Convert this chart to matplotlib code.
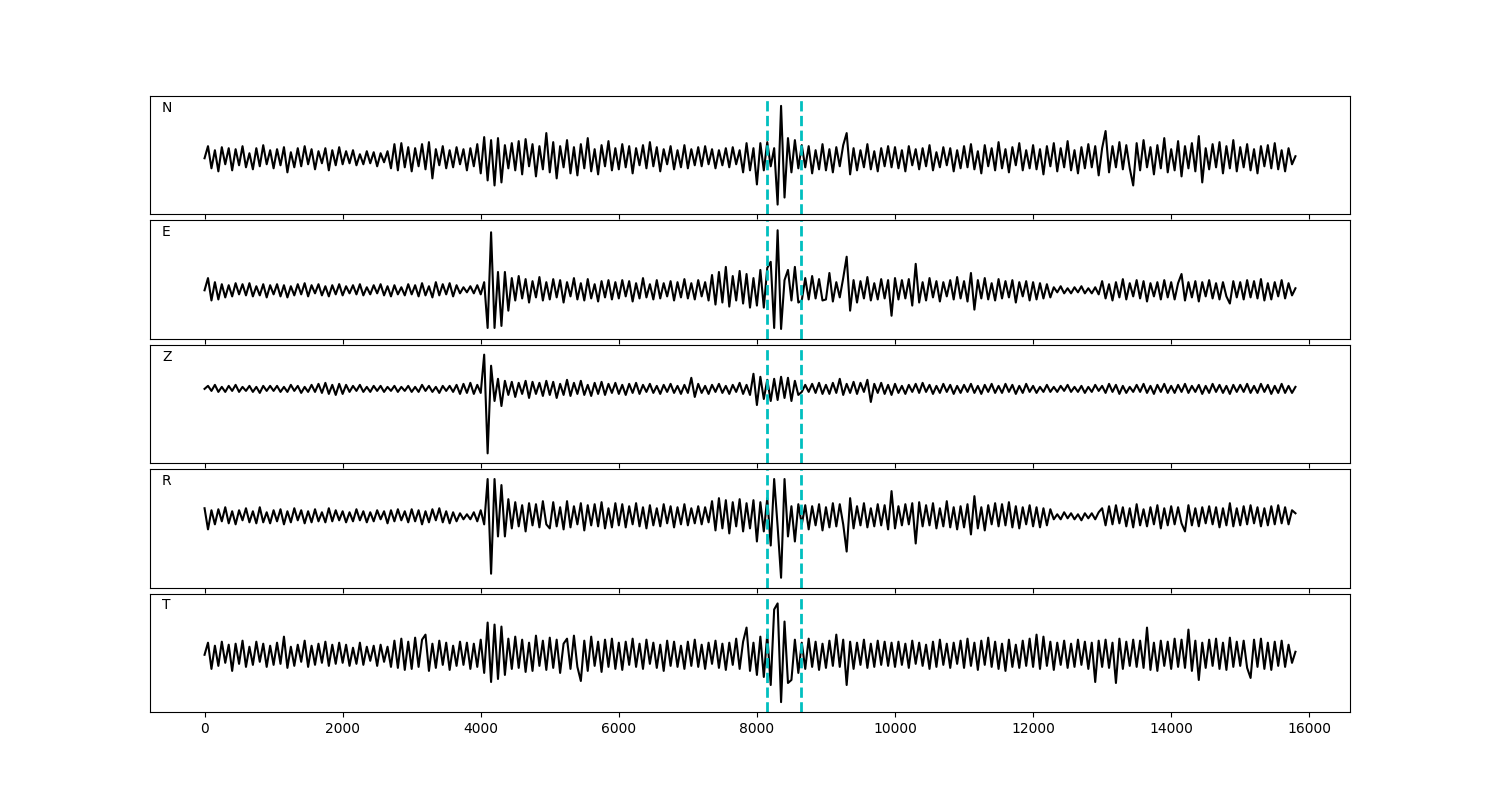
import numpy as np
import matplotlib
matplotlib.use('Agg')
import matplotlib.pyplot as plt

# component names, sample spacing and pick times
components = ['N', 'E', 'Z', 'R', 'T']
dt = 50
picks = [8140, 8640]

# amplitudes, one row per 1000 samples
n_trace = [
    0, 12, -10, 8, -13, 11, -6, 10, -12, 9, -7, 12, -9, 5, -11, 10, -8, 13, -6, 8,
    -10, 9, -7, 11, -14, 6, -9, 10, -8, 12, -6, 9, -11, 7, -5, 10, -12, 8, -7, 11,
    -6, 7, -5, 8, -7, 4, -6, 7, -5, 6, -8, 5, -4, 7, -10, 14, -12, 15, -9, 11,
    -13, 10, -8, 14, -11, 16, -20, 9, -7, 12, -10, 8, -9, 11, -6, 9, -12, 10, -8, 14,
    -15, 21, -22, 18, -27, 20, -24, 13, -10, 15, -12, 17, -16, 19, -8, 14, -18, 12, -11, 25,
    -14, 16, -20, 12, -9, 18, -15, 11, -17, 14, -10, 20, -13, 9, -16, 13, -8, 17, -12, 10,
    -11, 14, -9, 12, -15, 10, -7, 13, -10, 16, -8, 11, -13, 9, -6, 12, -11, 8, -9, 13,
    -10, 9, -7, 11, -8, 12, -6, 9, -10, 8, -7, 10, -9, 11, -6, 8, -14, 15, -12, 10,
    -26, 15, -12, 16, -8, 10, -46, 52, -39, 20, -14, 18, -10, 13, -9, 12, -15, 8, -11, 14,
    -12, 9, -14, 11, -8, 13, 25, -16, 10, -12, 8, -9, 14, -11, 7, -13, 10, -8, 12, -9,
    11, -10, 8, -13, 12, -7, 9, -11, 10, -8, 13, -12, 6, -9, 11, -7, 10, -13, 8, -10,
    12, -9, 14, -11, 7, -15, 13, -8, 10, -12, 16, -10, 9, -14, 11, -7, 15, -12, 8, -10,
    13, -11, 9, -16, 12, -8, 15, -13, 10, -9, 17, -12, 8, -15, 11, -10, 14, -9, 12, -17,
    10, 27, -14, 12, -9, 16, -11, 13, -10, -27, 15, -12, 18, -9, 11, -16, 13, -10, 20, -14,
    9, -12, 17, -18, 12, -10, 15, -13, 22, -24, 10, -11, 14, -9, 16, -15, 12, -10, 18, -13,
    11, -9, 14, -12, 9, -15, 12, -8, 13, -10, 15, -11, 8, -13, 10, -6, 2,
]

e_trace = [
    0, 12, -10, 8, -9, 6, -7, 5, -6, 7, -4, 6, -5, 7, -6, 4, -5, 6, -7, 5,
    -4, 6, -6, 5, -7, 4, -5, 6, -4, 7, -6, 5, -3, 6, -5, 4, -6, 5, -4, 6,
    -5, 4, -3, 5, -4, 6, -5, 3, -4, 5, -3, 6, -5, 4, -6, 5, -4, 3, -5, 6,
    -4, 5, -6, 7, -5, 4, -7, 8, -5, 6, -4, 7, -6, 5, -3, 3, -2, 4, -3, 5,
    -4, 8, -37, 57, -37, 18, -35, 18, -20, 12, -10, 14, -8, 11, -12, 9, -7, 13, -10, 8,
    -9, 11, -7, 10, -12, 8, -6, 12, -9, 7, -10, 11, -8, 6, -11, 9, -7, 10, -9, 8,
    -8, 10, -6, 9, -11, 7, -8, 12, -7, 6, -9, 10, -8, 7, -6, 9, -10, 8, -7, 11,
    -8, 7, -9, 10, -6, 8, -10, 15, -14, 18, -12, 23, -16, 14, -10, 19, -13, 16, -17, 12,
    -15, 20, -17, 22, 28, -37, 59, -38, 10, 20, -10, 23, -12, -10, 12, -9, 14, -8, 11, -10,
    -9, 17, -11, 8, -7, 12, 33, -20, 10, -12, 9, -8, 13, -10, 7, -9, 11, -8, 10, -25,
    12, -9, 10, -8, 11, -15, 26, -12, 8, -10, 12, -7, 9, -11, 8, -6, 10, -9, 13, -8,
    9, -11, 17, -19, 10, -8, 12, -9, 7, -10, 11, -8, 9, -7, 10, -12, 8, -6, 9, -10,
    8, -9, 7, -8, 6, -7, 3, -2, 4, -3, 2, -3, 3, -2, 4, -3, 2, -3, 3, -4,
    9, -8, 6, -10, 8, -7, 11, -9, 7, -6, 10, -8, 9, -11, 7, -6, 8, -9, 10, -7,
    8, -9, 7, 16, -10, 8, -7, 9, -11, 8, -6, 10, -8, 7, -9, 8, -6, -13, 9, -7,
    8, -9, 10, -7, 9, -8, 11, -10, 7, -9, 8, -6, 10, -8, 7, -5, 2,
]

z_trace = [
    0, 3, -2, 4, -3, 2, -3, 3, -2, 4, -3, 2, -2, 3, -3, 2, -4, 3, -2, 3,
    -2, 3, -3, 2, -3, 4, -2, 3, -4, 2, -3, 4, -3, 5, -4, 6, -5, 4, -6, 5,
    -5, 4, -3, 3, -2, 4, -3, 2, -3, 3, -2, 3, -3, 2, -2, 3, -3, 2, -2, 3,
    -3, 2, -3, 4, -2, 3, -3, 2, -4, 3, -2, 3, -3, 4, -5, 5, -4, 6, -5, 4,
    -4, 34, -64, 23, -12, 10, -17, 8, -6, 7, -8, 6, -5, 8, -9, 7, -5, 6, -7, 8,
    -6, 7, -9, 5, -6, 9, -7, 6, -5, 8, -6, 4, -7, 6, -5, 7, -6, 5, -4, 6,
    -5, 4, -6, 5, -4, 6, -5, 4, -3, 5, -4, 3, -5, 4, -3, 5, -4, 3, -5, 4,
    -4, 11, -8, 5, -4, 3, -5, 4, -3, 5, -4, 3, -5, 4, -3, 6, -5, 4, -6, 15,
    -16, 12, -10, 9, -12, 10, -11, 12, -9, 11, -12, 8, -6, -3, 4, -3, 5, -4, 6, -5,
    4, -5, 6, -4, 10, -6, 5, -4, 7, -5, 6, -3, 9, -13, 5, -4, 6, -5, 4, -6,
    5, -4, 3, -5, 4, -3, 5, -4, 6, -3, 4, -5, 3, -4, 5, -3, 4, -5, 3, -4,
    4, -3, 5, -4, 3, -5, 4, -3, 5, -4, 3, -4, 5, -3, 4, -5, 3, -4, 5, -3,
    3, -4, 2, -3, 4, -3, 2, -3, 3, -2, 4, -3, 2, -3, 3, -4, 2, -3, 4, -2,
    3, -4, 5, -3, 4, -5, 3, -4, 2, -3, 4, -3, 5, -4, 3, -5, 4, -3, 5, -4,
    3, -4, 4, -3, 5, -4, 3, -3, 4, -5, 3, -4, 5, -3, 4, -4, 3, -5, 4, -3,
    4, -3, 5, -4, 3, -4, 5, -3, 4, -5, 3, -4, 5, -4, 3, -4, 2,
]

r_trace = [
    8, -13, 6, -8, 7, -5, 9, -7, 5, -8, 6, -4, 8, -6, 5, -7, 9, -6, 4, -7,
    6, -5, 7, -8, 5, -6, 8, -4, 6, -7, 5, -6, 7, -5, 4, -6, 8, -5, 6, -4,
    5, -6, 4, -5, 7, -4, 5, -6, 4, -5, 6, -3, 5, -7, 6, -5, 7, -4, 5, -6,
    7, -5, 6, -8, 5, -6, 7, -4, 8, -6, 5, -7, 4, -5, 3, -3, 2, -3, 4, -5,
    6, -8, 37, -57, 37, -20, 31, -20, 17, -12, 14, -10, 11, -15, 13, -9, 12, -11, 15, -8,
    -12, 14, -10, 9, -13, 15, -11, 10, -8, 13, -14, 11, -9, 12, -10, 14, -12, 8, -11, 13,
    -9, 12, -11, 10, -8, 13, -10, 9, -12, 11, -9, 8, -10, 12, -7, 10, -11, 9, -8, 12,
    -9, 8, -7, 10, -8, 9, -6, 15, -14, 18, -12, 16, -17, 14, -10, 17, -15, 13, -12, 16,
    -25, 14, -15, 18, -29, 37, -10, -61, 37, -20, 10, -25, 12, -8, 11, -13, 10, -9, 12, -14,
    9, -11, 13, -10, 12, -8, -35, 18, -12, 10, -9, 13, -11, 8, -10, 12, -9, 11, -13, 25,
    -12, 10, -9, 12, -8, 13, -27, 14, -10, 11, -9, 13, -12, 8, -10, 15, -11, 9, -13, 10,
    -11, 12, -18, 20, -12, 9, -14, 11, -8, 13, -10, 12, -9, 14, -11, 10, -12, 9, -8, 11,
    -10, 9, -11, 8, -9, 7, -3, 2, -3, 4, -2, 3, -3, 2, -4, 3, -2, 3, -3, 4,
    8, -9, 10, -8, 11, -7, 9, -10, 8, -11, 12, -9, 7, -10, 9, -8, 11, -12, 8, -9,
    10, -8, 9, -7, -15, 11, -9, 8, -10, 9, -7, 10, -8, 9, -11, 8, -9, 13, -10, 8,
    -9, 10, -8, 11, -7, 9, -10, 8, -9, 10, -8, 11, -7, 9, -8, 6, 3,
]

t_trace = [
    0, 12, -14, 9, -11, 13, -8, 10, -16, 11, -9, 14, -12, 8, -10, 13, -7, 11, -12, 9,
    -10, 12, -9, 18, -13, 8, -11, 10, -7, 14, -12, 9, -10, 11, -8, 13, -11, 10, -9, 12,
    -8, 10, -11, 7, -9, 12, -10, 8, -6, 9, -11, 10, -7, 8, -12, 14, -13, 16, -15, 13,
    -14, 17, -12, 15, 20, -16, 11, -13, 14, -10, 12, -15, 9, -11, 13, -10, 12, -14, 11, -12,
    15, -18, 32, -27, 30, -24, 28, -20, 16, -14, 18, -13, 15, -17, 12, -16, 19, -11, 14, -15,
    17, -13, 15, -18, 11, 16, -14, 19, -12, -26, 14, -16, 18, -11, 13, -17, 15, -12, 16, -14,
    12, -15, 13, -10, 16, -12, 11, -14, 15, -9, 12, -13, 10, -16, 14, -11, 13, -12, 9, -14,
    13, -11, 15, -12, 10, -14, 12, -9, 14, -13, 11, -15, 12, -10, 16, -14, 13, 27, -16, 12,
    -20, 18, -22, 20, -30, 45, 51, -47, 33, -28, -25, 15, -18, 12, -14, 16, -12, 13, -15, 11,
    -13, 14, -11, 20, -12, 15, -30, 13, -14, 12, -10, 15, -13, 11, -12, 14, -10, 13, -11, 12,
    -12, 13, -10, 11, -13, 14, -9, 12, -11, 10, -14, 13, -12, 15, -10, 11, -13, 12, -9, 14,
    -13, 16, -11, 12, -15, 14, -10, 17, -12, 13, -14, 11, -16, 15, -12, 10, -13, 14, -11, 16,
    -12, 20, -14, 18, -11, 13, -15, 12, -10, 14, -13, 11, -12, 15, -10, 13, -14, 12, -27, 14,
    -12, 15, -13, 12, -28, 16, -14, 13, -11, 15, -12, 14, -13, 27, -15, 12, -16, 14, -11, 13,
    -14, 16, -12, 15, -13, 25, -16, 14, -25, 12, -13, 15, -11, 16, -14, 12, -15, 17, -12, 13,
    -11, 14, -13, -23, 15, -12, 16, -14, 12, -15, 13, -11, 14, -12, 10, -8, 3,
]

traces = [n_trace, e_trace, z_trace, r_trace, t_trace]

fig, axes = plt.subplots(5, 1, sharex=True, figsize=(15, 8))
plt.subplots_adjust(left=0.1, right=0.9, top=0.88, bottom=0.11, hspace=0.05)

for ax, name, tr in zip(axes, components, traces):
    tr = np.array(tr, dtype=float)
    t = np.arange(len(tr)) * dt
    ax.plot(t, tr, color='k', lw=1.5)
    ax.margins(y=0.1)
    for p in picks:
        ax.axvline(p, color='c', ls='--', lw=2)
    ax.set_yticks([])
    ax.text(0.01, 0.9, name, transform=ax.transAxes, ha='left', va='center', fontsize=10)

plt.savefig('out.png', dpi=100)
